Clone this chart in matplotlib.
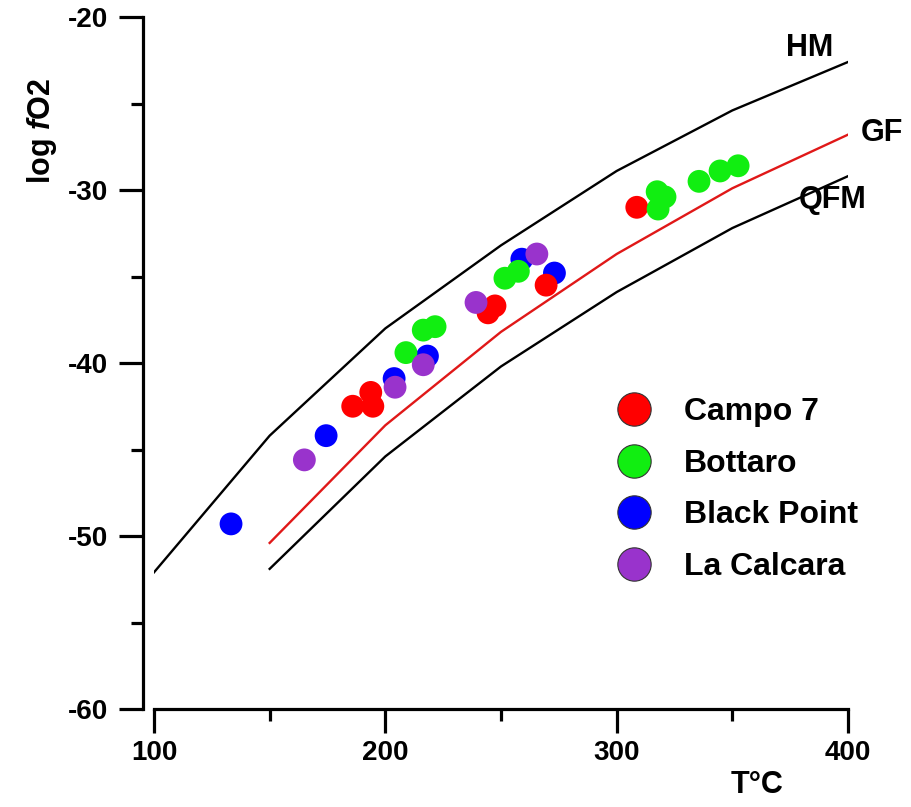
import matplotlib
matplotlib.use("Agg")
import matplotlib.pyplot as plt
from matplotlib.lines import Line2D
from matplotlib.ticker import MultipleLocator

plt.rcParams['font.family'] = ['Liberation Sans', 'DejaVu Sans']
plt.rcParams['font.weight'] = 'bold'
plt.rcParams['axes.unicode_minus'] = False
plt.rcParams['mathtext.fontset'] = 'custom'
plt.rcParams['mathtext.it'] = 'Liberation Sans:italic:bold'
plt.rcParams['mathtext.rm'] = 'Liberation Sans:bold'

# Buffer curves (T in C, log fO2)
hm_T = [100, 150, 200, 250, 300, 350, 400]
hm_f = [-52.1, -44.2, -38.0, -33.2, -28.9, -25.4, -22.6]
gf_T = [150, 200, 250, 300, 350, 400]
gf_f = [-50.4, -43.6, -38.2, -33.7, -29.9, -26.8]
qfm_T = [150, 200, 250, 300, 350, 400]
qfm_f = [-51.9, -45.4, -40.2, -35.9, -32.2, -29.2]

# Samples
campo_T = [185.9, 193.7, 194.6, 244.4, 247.4, 269.5, 308.7]
campo_f = [-42.5, -41.7, -42.5, -37.1, -36.7, -35.5, -31.0]
bottaro_T = [208.9, 216.4, 221.5, 251.7, 257.5, 317.5, 320.9, 317.9, 335.6, 344.7, 352.5]
bottaro_f = [-39.4, -38.1, -37.9, -35.1, -34.7, -30.1, -30.4, -31.1, -29.5, -28.9, -28.6]
black_T = [133.3, 174.4, 203.8, 218.2, 259.0, 273.1]
black_f = [-49.3, -44.2, -40.9, -39.6, -34.0, -34.8]
calcara_T = [165.0, 204.2, 216.4, 239.2, 265.5]
calcara_f = [-45.6, -41.4, -40.1, -36.5, -33.7]

series_names = ['Campo 7', 'Bottaro', 'Black Point', 'La Calcara']
colors = ['#FF0000', '#11EE11', '#0000FF', '#9933CC']

fig = plt.figure(figsize=(9.12, 8.07), dpi=100)
ax = fig.add_axes([154/912, 1 - 709/807, 694/912, (709-17)/807])

ax.plot(hm_T, hm_f, color='black', lw=1.7)
ax.plot(gf_T, gf_f, color='#E01818', lw=1.7)
ax.plot(qfm_T, qfm_f, color='black', lw=1.7)

ms = 270
ax.scatter(black_T, black_f, s=ms, color=colors[2], edgecolors='none', zorder=3)
ax.scatter(campo_T, campo_f, s=ms, color=colors[0], edgecolors='none', zorder=4)
ax.scatter(bottaro_T, bottaro_f, s=ms, color=colors[1], edgecolors='none', zorder=5)
ax.scatter(calcara_T, calcara_f, s=ms, color=colors[3], edgecolors='none', zorder=6)

ax.text(383.6, -21.8, 'HM', fontsize=22, fontweight='bold', ha='center', va='center')
ax.text(414.7, -26.7, 'GF', fontsize=22, fontweight='bold', ha='center', va='center', clip_on=False)
ax.text(393.5, -30.6, 'QFM', fontsize=22, fontweight='bold', ha='center', va='center')

ax.set_xlim(100, 400)
ax.set_ylim(-60, -20)
ax.xaxis.set_major_locator(MultipleLocator(100))
ax.xaxis.set_minor_locator(MultipleLocator(50))
ax.yaxis.set_major_locator(MultipleLocator(10))
ax.yaxis.set_minor_locator(MultipleLocator(5))

for s in ['top', 'right']:
    ax.spines[s].set_visible(False)
ax.spines['left'].set_position(('outward', 8))
ax.spines['left'].set_linewidth(2.3)
ax.spines['bottom'].set_linewidth(2.3)
ax.tick_params(which='major', length=17, width=2.3, labelsize=20, pad=8)
ax.tick_params(axis='x', which='major', pad=5.5)
ax.tick_params(which='minor', length=8.5, width=2.3)
for lab in ax.get_xticklabels() + ax.get_yticklabels():
    lab.set_fontweight('bold')

ax.set_ylabel(r'log $\it{f}$O2', fontsize=22, fontweight='bold')
ax.yaxis.set_label_coords(-0.137, 0.835)
ax.text(0.869, -0.11, 'T°C', transform=ax.transAxes, fontsize=22,
        fontweight='bold', ha='center', va='center')

handles = [Line2D([], [], ls='none', marker='o', markersize=24, markerfacecolor=c,
                  markeredgecolor='#333333', markeredgewidth=0.8) for c in colors]
leg = ax.legend(handles, series_names, loc='upper left', frameon=False,
                bbox_to_anchor=(612/912, 1 - 397/807), bbox_transform=fig.transFigure,
                prop={'size': 23, 'weight': 'bold'}, handlelength=1.4,
                handletextpad=0.85, labelspacing=0.68, borderpad=0, borderaxespad=0)

fig.savefig('out.png', dpi=100)
